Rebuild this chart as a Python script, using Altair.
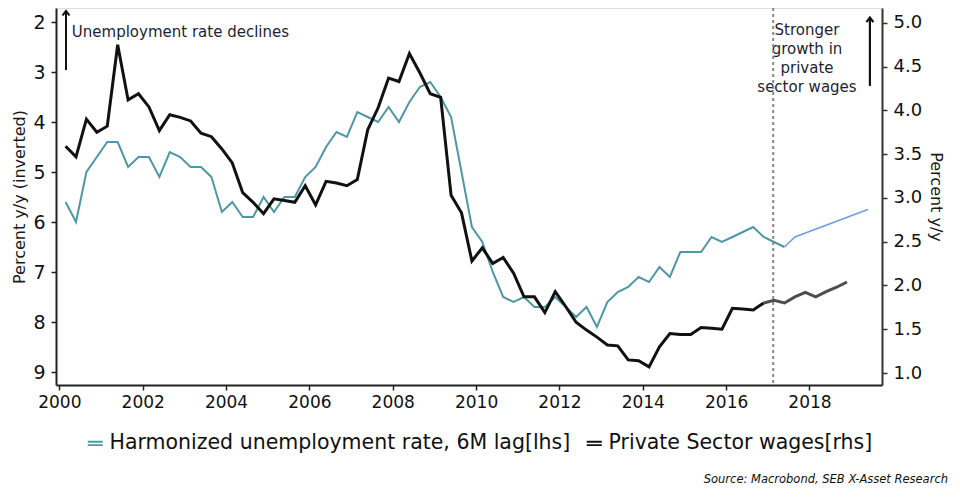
import altair as alt
import pandas as pd

FONT = "DejaVu Sans"

# quarterly observation positions (decimal years)
start_year = 2000.15
step = 0.25

unemp = [5.6, 6.0, 5.0, 4.7, 4.4, 4.4, 4.9, 4.7, 4.7, 5.1, 4.6, 4.7, 4.9, 4.9, 5.1,
         5.8, 5.6, 5.9, 5.9, 5.5, 5.8, 5.5, 5.5, 5.1, 4.9, 4.5, 4.2, 4.3, 3.8, 3.9,
         4.0, 3.7, 4.0, 3.6, 3.3, 3.2, 3.5, 3.9, 5.0, 6.1, 6.4, 7.0, 7.5, 7.6, 7.5,
         7.7, 7.7, 7.5, 7.7, 7.9, 7.7, 8.1, 7.6, 7.4, 7.3, 7.1, 7.2, 6.9, 7.1, 6.6,
         6.6, 6.6, 6.3, 6.4, 6.3, 6.2, 6.1, 6.3, 6.4, 6.5]
unemp_proj_idx = [69, 70, 77]
unemp_proj = [6.5, 6.3, 5.75]

wages = [3.59, 3.47, 3.90, 3.75, 3.82, 4.75, 4.12, 4.19, 4.04, 3.77, 3.95, 3.92,
         3.88, 3.74, 3.70, 3.56, 3.40, 3.06, 2.95, 2.82, 2.99, 2.97, 2.95, 3.14,
         2.92, 3.19, 3.17, 3.14, 3.21, 3.78, 4.03, 4.37, 4.33, 4.65, 4.43, 4.19,
         4.15, 3.03, 2.83, 2.28, 2.43, 2.25, 2.32, 2.14, 1.87, 1.87, 1.69, 1.93,
         1.76, 1.58, 1.49, 1.41, 1.32, 1.31, 1.15, 1.14, 1.07, 1.30, 1.45, 1.44,
         1.44, 1.52, 1.51, 1.50, 1.74, 1.73, 1.72, 1.80]
wages_proj_start = 67
wages_proj = [1.80, 1.83, 1.80, 1.87, 1.92, 1.87, 1.93, 1.98, 2.04]

S1 = "Harmonized unemployment rate, 6M lag[lhs]"
S2 = "Private Sector wages[rhs]"
S1P = "Unemployment projection"
S2P = "Wages projection"

marker_year = 2017.13
x_ticks = list(range(2000, 2019, 2))
left_ticks = [2, 3, 4, 5, 6, 7, 8, 9]
right_ticks = [1.0, 1.5, 2.0, 2.5, 3.0, 3.5, 4.0, 4.5, 5.0]

def t(k):
    return start_year + step * k

df_u = pd.DataFrame({"t": [t(k) for k in range(len(unemp))], "v": unemp, "s": S1})
df_up = pd.DataFrame({"t": [t(k) for k in unemp_proj_idx], "v": unemp_proj, "s": S1P})
df_w = pd.DataFrame({"t": [t(k) for k in range(len(wages))], "v": wages, "s": S2})
df_wp = pd.DataFrame({"t": [t(wages_proj_start + i) for i in range(len(wages_proj))],
                      "v": wages_proj, "s": S2P})

color = alt.Color("s:N", scale=alt.Scale(domain=[S1, S2, S1P, S2P],
                                         range=["#4e98a3", "#111111", "#6f9fe2", "#4d4d4d"]),
                  legend=alt.Legend(values=[S1, S2], title=None, orient="none",
                                    legendX=29, legendY=425, direction="horizontal",
                                    labelFont=FONT, labelFontSize=20.5, labelColor="#111",
                                    labelLimit=0, labelOffset=4, columnPadding=12,
                                    symbolType="M-1,-0.22L1,-0.22M-1,0.22L1,0.22",
                                    symbolSize=225, symbolStrokeWidth=1.8))

xaxis = alt.Axis(values=x_ticks, format="d", title=None, grid=False, tickSize=5,
                 labelFontSize=17, labelPadding=4, labelFont=FONT, labelColor="#111",
                 domainColor="#222", domainWidth=2, tickColor="#222", tickWidth=1.5)
X = alt.X("t:Q", scale=alt.Scale(domain=[1999.92, 2019.74], nice=False, zero=False), axis=xaxis)

laxis = alt.Axis(values=left_ticks, title="Percent y/y (inverted)", orient="left", grid=False,
                 tickSize=5, labelFontSize=19, labelPadding=6, labelFont=FONT, labelColor="#111",
                 titleFont=FONT, titleFontSize=16, titleFontWeight="normal", titleColor="#1a1a1a",
                 titlePadding=5, domainColor="#222", domainWidth=2, tickColor="#222", tickWidth=1.5)
YL = alt.Y("v:Q", scale=alt.Scale(domain=[1.72, 9.26], reverse=True, nice=False, zero=False),
           axis=laxis)

raxis = alt.Axis(values=right_ticks, format=".1f", title="Percent y/y", orient="right", grid=False,
                 tickSize=5, labelFontSize=18, labelPadding=6, labelFont=FONT, labelColor="#111",
                 titleFont=FONT, titleFontSize=16, titleFontWeight="normal", titleColor="#1a1a1a",
                 titlePadding=6, domainColor="#333", domainWidth=2, tickColor="#333", tickWidth=1.5)
YR = alt.Y("v:Q", scale=alt.Scale(domain=[0.863, 5.17], nice=False, zero=False), axis=raxis)

TXT = "#231f33"

# left (inverted) scale layers
l_line = alt.Chart(df_u).mark_line(strokeWidth=2).encode(x=X, y=YL, color=color)
l_proj = alt.Chart(df_up).mark_line(strokeWidth=1.6).encode(x=X, y=YL, color=color)
l_arrow_df = pd.DataFrame({"t": [2000.16, 2000.16], "v": [2.96, 1.78]})
l_arrow = alt.Chart(l_arrow_df).mark_line(color="#111", strokeWidth=2).encode(x=X, y=YL)
l_head = alt.Chart(l_arrow_df.iloc[[1]]).mark_point(
    shape="M-0.7,0.9L0,0L0.7,0.9", filled=False, size=100, color="#111", strokeWidth=2, opacity=1
).encode(x=X, y=YL)
l_text = alt.Chart(pd.DataFrame({"t": [2000.30], "v": [2.2], "txt": ["Unemployment rate declines"]})
                   ).mark_text(align="left", baseline="middle", font=FONT, fontSize=15, color=TXT
                               ).encode(x=X, y=YL, text="txt:N")
left = alt.layer(l_line, l_proj, l_arrow, l_head, l_text)

# right scale layers
r_line = alt.Chart(df_w).mark_line(strokeWidth=3).encode(x=X, y=YR, color=color)
r_proj = alt.Chart(df_wp).mark_line(strokeWidth=3).encode(x=X, y=YR, color=color)
r_arrow_df = pd.DataFrame({"t": [2019.45, 2019.45], "v": [4.28, 5.06]})
r_arrow = alt.Chart(r_arrow_df).mark_line(color="#111", strokeWidth=2.2).encode(x=X, y=YR)
r_head = alt.Chart(r_arrow_df.iloc[[1]]).mark_point(
    shape="M-0.7,0.9L0,0L0.7,0.9", filled=False, size=100, color="#111", strokeWidth=2.2, opacity=1
).encode(x=X, y=YR)
r_text_df = pd.DataFrame({"t": [2017.94] * 4, "v": [4.92, 4.70, 4.49, 4.27],
                          "txt": ["Stronger", "growth in", "private", "sector wages"]})
r_text = alt.Chart(r_text_df).mark_text(align="center", baseline="middle", font=FONT,
                                        fontSize=15, color=TXT).encode(x=X, y=YR, text="txt:N")
right = alt.layer(r_line, r_proj, r_arrow, r_head, r_text)

rule = alt.Chart(pd.DataFrame({"t": [marker_year]})).mark_rule(
    color="#888", strokeDash=[3, 3], strokeWidth=2).encode(x=X)

source = alt.Chart(pd.DataFrame({"txt": ["Source: Macrobond, SEB X-Asset Research"]})).mark_text(
    align="right", baseline="middle", font=FONT, fontSize=11.5, fontStyle="italic", color="#111"
).encode(x=alt.value(892), y=alt.value(472), text="txt:N")

chart = alt.layer(left, right, rule, source).resolve_scale(y="independent").properties(
    width=826, height=377,
    autosize=alt.AutoSizeParams(type="none"),
    padding={"left": 48, "top": 0, "right": 70, "bottom": 105},
).configure_view(stroke=None).configure(background="white")

chart.save("out.html", embed_options={"renderer": "svg", "actions": False})
